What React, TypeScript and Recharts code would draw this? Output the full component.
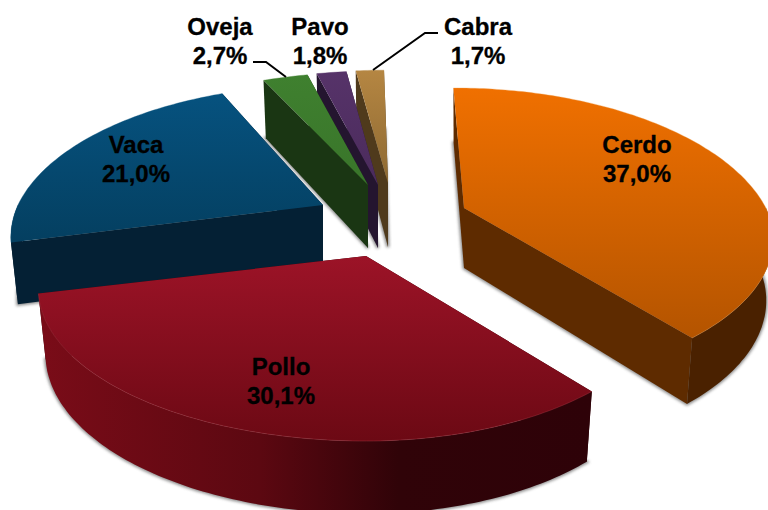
import { Pie, PieChart } from "recharts";

// drawn counter-clockwise so that the nearer slices paint over the further ones
const categories = ["Vaca", "Pollo", "Cerdo", "Cabra", "Pavo", "Oveja"];
const shares = [21.0, 30.1, 37.0, 1.7, 1.8, 2.7];

const chartData = categories.map((name, i) => ({ name, value: shares[i] }));

const WIDTH = 768;
const HEIGHT = 510;
const CX = 360;
const CY = 210;
const RADIUS = 305;
const TILT = 0.4774;
const PERSPECTIVE = 0.213;
const TAPER = 0.022;

type SliceStyle = {
  offset: [number, number];
  squash: number;
  front: number;
  stretch: [number, number];
  depth: number;
  top: [string, string];
  face: string;
  wall: [number, string][];
  rim: string;
};

const sliceStyles: Record<string, SliceStyle> = {
  Cerdo: {
    offset: [104, -2],
    squash: 1,
    front: 0.96,
    stretch: [1, 0.99],
    depth: 60,
    top: ["#f07000", "#b45400"],
    face: "#5e2b00",
    wall: [
      [0, "#4a2100"],
      [1, "#4a2100"],
    ],
    rim: "#f0a050",
  },
  Pollo: {
    offset: [6, 46],
    squash: 1,
    front: 1,
    stretch: [1.05, 0.98],
    depth: 64,
    top: ["#9c1327", "#6c0914"],
    face: "#300308",
    wall: [
      [0, "#7a0c18"],
      [0.4, "#5c0811"],
      [0.65, "#300308"],
      [1, "#2e0208"],
    ],
    rim: "#b8404e",
  },
  Vaca: {
    offset: [-37, -5],
    squash: 1,
    front: 1,
    stretch: [1, 1],
    depth: 60,
    top: ["#06527f", "#043f60"],
    face: "#042034",
    wall: [
      [0, "#042034"],
      [1, "#042034"],
    ],
    rim: "#06527f",
  },
  Oveja: {
    offset: [8, -25],
    squash: 0.94,
    front: 1,
    stretch: [1, 1],
    depth: 63,
    top: ["#3f802f", "#39752a"],
    face: "#1a3613",
    wall: [
      [0, "#1a3613"],
      [1, "#1a3613"],
    ],
    rim: "#3f802f",
  },
  Pavo: {
    offset: [18, -25],
    squash: 0.95,
    front: 1,
    stretch: [1, 1],
    depth: 63,
    top: ["#563369", "#4b2b5c"],
    face: "#24152f",
    wall: [
      [0, "#24152f"],
      [1, "#24152f"],
    ],
    rim: "#563369",
  },
  Cabra: {
    offset: [28, -27],
    squash: 0.94,
    front: 1,
    stretch: [1, 1],
    depth: 64,
    top: ["#b58642", "#8d6932"],
    face: "#4f3a1c",
    wall: [
      [0, "#4f3a1c"],
      [1, "#4f3a1c"],
    ],
    rim: "#b58642",
  },
};

const labelStyles: Record<
  string,
  { x: number; y: number; leader?: [number, number][] }
> = {
  Cerdo: { x: 637, y: 153 },
  Pollo: { x: 281, y: 375 },
  Vaca: { x: 136, y: 153 },
  Oveja: {
    x: 220,
    y: 35,
    leader: [
      [253, 62],
      [266, 62],
      [286, 77],
    ],
  },
  Pavo: { x: 320, y: 35 },
  Cabra: {
    x: 478,
    y: 35,
    leader: [
      [373, 70],
      [425, 33],
      [438, 33],
    ],
  },
};

const formatShare = (value: number) => `${value.toFixed(1).replace(".", ",")}%`;

const toPath = (points: [number, number][], close = true) =>
  `M${points.map(([x, y]) => `${x.toFixed(1)},${y.toFixed(1)}`).join("L")}${close ? "Z" : ""}`;

// theta: clockwise degrees from the top of the pie
const makeProjector =
  (cx: number, cy: number, radius: number, style: SliceStyle) =>
  (theta: number, r: number, down: boolean): [number, number] => {
    const rad = (theta * Math.PI) / 180;
    const X = Math.sin(rad) * r;
    const Y = -Math.cos(rad) * r;
    const s = 1 / (1 - PERSPECTIVE * Y);
    const ax = cx + style.offset[0];
    const ay = cy + style.offset[1];
    const stretch = X < 0 ? style.stretch[0] : style.stretch[1];
    const squash = Y > 0 ? style.front : style.squash;
    let px = radius * X * s * stretch + (ax - CX) * (Math.min(s, 1) - 1) * 0.5;
    let py = radius * TILT * squash * Y * s;
    if (down) {
      px *= 1 - TAPER;
      py += style.depth * (1 + (s - 1) * 0.5);
    }
    return [ax + px, ay + py];
  };

const Slice3D = (props: any) => {
  const { cx, cy, outerRadius, startAngle, endAngle } = props;
  const name = props.name ?? props.payload?.name;
  const style = sliceStyles[name];
  const project = makeProjector(cx, cy, outerRadius, style);
  const lo = 90 - endAngle;
  const hi = 90 - startAngle;

  const sweep = (from: number, to: number) => {
    const steps = Math.max(4, Math.ceil(to - from));
    const list: number[] = [];
    for (let i = 0; i <= steps; i++) list.push(from + ((to - from) * i) / steps);
    return list;
  };

  const thetas = sweep(lo, hi);
  const topArc = thetas.map((t) => project(t, 1, false));
  const downArc = thetas.map((t) => project(t, 1, true));
  const apex = project(0, 0, false);
  const apexDown = project(0, 0, true);
  const last = thetas.length - 1;

  // only the part of the rim that faces the viewer gets a wall
  const wallFrom = Math.max(lo, 90);
  const wallTo = Math.min(hi, 270);
  const wallThetas = wallTo > wallFrom ? sweep(wallFrom, wallTo) : [];
  const id = name;

  return (
    <g>
      <defs>
        <linearGradient id={`top-${id}`} x1="0" y1="0" x2="0" y2="1">
          <stop offset="0" stopColor={style.top[0]} />
          <stop offset="1" stopColor={style.top[1]} />
        </linearGradient>
        <linearGradient id={`wall-${id}`} x1="0" y1="0" x2="1" y2="0">
          {style.wall.map(([offset, color]) => (
            <stop key={offset} offset={offset} stopColor={color} />
          ))}
        </linearGradient>
        <filter id={`shadow-${id}`} x="-10%" y="-10%" width="120%" height="120%">
          <feGaussianBlur stdDeviation="1.6" />
        </filter>
      </defs>
      <path
        d={toPath([apexDown, ...downArc])}
        fill="#666"
        stroke="#666"
        strokeWidth={3}
        opacity={0.75}
        filter={`url(#shadow-${id})`}
      />
      <path
        d={toPath([apex, topArc[last], downArc[last], apexDown])}
        fill={style.face}
      />
      <path
        d={toPath([apex, topArc[0], downArc[0], apexDown])}
        fill={style.face}
      />
      {wallThetas.length > 0 && (
        <path
          d={toPath([
            ...wallThetas.map((t) => project(t, 1, false)),
            ...wallThetas.map((t) => project(t, 1, true)).reverse(),
          ])}
          fill={`url(#wall-${id})`}
        />
      )}
      <path d={toPath([apex, ...topArc])} fill={`url(#top-${id})`} />
      <path
        d={toPath(topArc, false)}
        fill="none"
        stroke={style.rim}
        strokeWidth={1}
        opacity={0.35}
      />
    </g>
  );
};

const SliceLabel = (props: any) => {
  const name = props.name ?? props.payload?.name;
  const value = props.value ?? props.payload?.value;
  const spot = labelStyles[name];
  return (
    <g>
      {spot.leader && (
        <path
          d={toPath(spot.leader, false)}
          fill="none"
          stroke="#000"
          strokeWidth={2}
        />
      )}
      <text
        textAnchor="middle"
        fontFamily="'Liberation Sans', Arial, sans-serif"
        fontWeight={700}
        fontSize={24}
        fill="#000"
        stroke="#000"
        strokeWidth={0.3}
      >
        <tspan x={spot.x} y={spot.y}>
          {name}
        </tspan>
        <tspan x={spot.x} y={spot.y + 29}>
          {formatShare(value)}
        </tspan>
      </text>
    </g>
  );
};

export default function App() {
  return (
    <div
      style={{
        position: "absolute",
        left: 0,
        top: 0,
        width: WIDTH,
        height: HEIGHT,
        overflow: "hidden",
        background: "#fff",
      }}
    >
      <PieChart
        width={WIDTH}
        height={HEIGHT}
        margin={{ top: 0, right: 0, bottom: 0, left: 0 }}
      >
        <Pie
          data={chartData}
          dataKey="value"
          nameKey="name"
          cx={CX}
          cy={CY}
          innerRadius={0}
          outerRadius={RADIUS}
          startAngle={-246}
          endAngle={114}
          stroke="none"
          shape={Slice3D}
          label={SliceLabel}
          labelLine={false}
          isAnimationActive={false}
        />
      </PieChart>
    </div>
  );
}
